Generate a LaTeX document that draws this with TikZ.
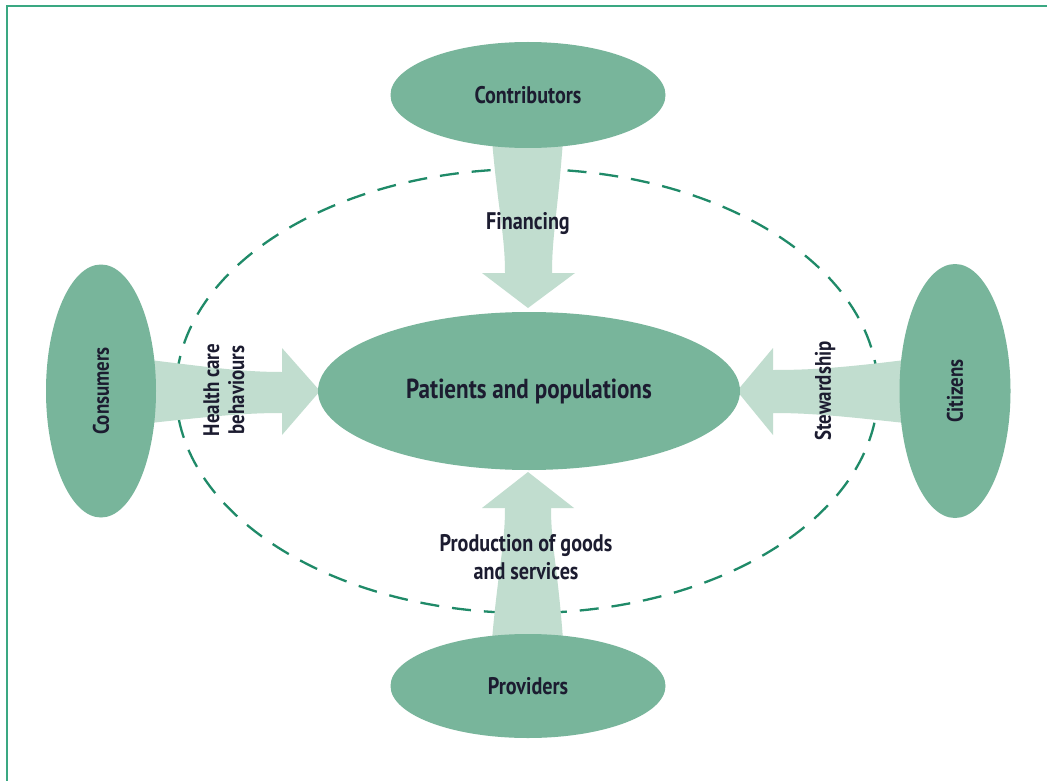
\documentclass[tikz,border=0pt]{standalone}
\usepackage{fontspec}
\setmainfont{PT Sans}[FakeStretch=0.84]
\begin{document}
\begin{tikzpicture}[x=1pt,y=-1pt,
  actor/.style={ellipse, fill=actorgreen, inner sep=0pt},
  flow/.style={fill=flowgreen},
  lbl/.style={text=labelink, font=\bfseries\fontsize{24}{28}\selectfont, align=center, inner sep=0pt},
  vlbl/.style={lbl, rotate=90, font=\bfseries\fontsize{22.5}{25}\selectfont},
]
\usetikzlibrary{shapes.geometric}
\definecolor{actorgreen}{HTML}{78B59B}
\definecolor{flowgreen}{HTML}{C1DDCF}
\definecolor{framegreen}{HTML}{3AA882}
\definecolor{dashgreen}{HTML}{1F8A68}
\definecolor{labelink}{HTML}{1C1C30}

\useasboundingbox (0,0) rectangle (1047,781);
\fill[white] (0,0) rectangle (1047,781);

% open frame along the top and left
\draw[framegreen, line width=2pt] (7,781) -- (7,6.5) -- (1047,6.5);

% boundary of the health system
\draw[dashgreen, line width=2.3pt, dash pattern=on 19pt off 13pt]
  (527,391) ellipse [x radius=351, y radius=222];

% flows into the centre
\fill[flow] (492,140) .. controls (498,210) and (505,235) .. (505,273)
  -- (482,273) -- (528,308) -- (575,273) -- (552,273)
  .. controls (552,235) and (558,210) .. (563,140) -- cycle;
\fill[flow] (492,640) .. controls (498,570) and (505,545) .. (505,508)
  -- (482,508) -- (528,472) -- (574,508) -- (551,508)
  .. controls (551,545) and (558,570) .. (563,640) -- cycle;
\fill[flow] (150,360) .. controls (215,368) and (245,372) .. (282,372)
  -- (282,348) -- (320,391) -- (282,435) -- (282,413)
  .. controls (245,413) and (215,416) .. (150,423) -- cycle;
\fill[flow] (905,360) .. controls (840,368) and (810,370) .. (773,370)
  -- (773,348) -- (737,391) -- (773,435) -- (773,413)
  .. controls (810,413) and (840,416) .. (905,423) -- cycle;

% actors
\node[actor, minimum width=275pt, minimum height=106pt] (contrib) at (528,95) {};
\node[actor, minimum width=275pt, minimum height=104pt] (prov) at (528,686) {};
\node[actor, minimum width=110pt, minimum height=253pt] (cons) at (101,391) {};
\node[actor, minimum width=111pt, minimum height=254pt] (citi) at (955,391) {};
\node[actor, minimum width=422pt, minimum height=158pt] (patients) at (529,391) {};

% labels
\node[lbl] at (contrib) {Contributors};
\node[lbl] at (prov) {Providers};
\node[vlbl] at (cons) {Consumers};
\node[vlbl] at (citi) {Citizens};
\node[lbl, font=\bfseries\fontsize{27.5}{30}\selectfont] at (patients) {Patients and populations};
\node[lbl] (fin) at (528,224) {Financing};
\node[lbl] (prod) at (526,557) {Production of goods\\and services};
\node[vlbl] (hcb) at (224,390) {Health care\\behaviours};
\node[vlbl] (stew) at (825,391) {Stewardship};
\end{tikzpicture}
\end{document}
